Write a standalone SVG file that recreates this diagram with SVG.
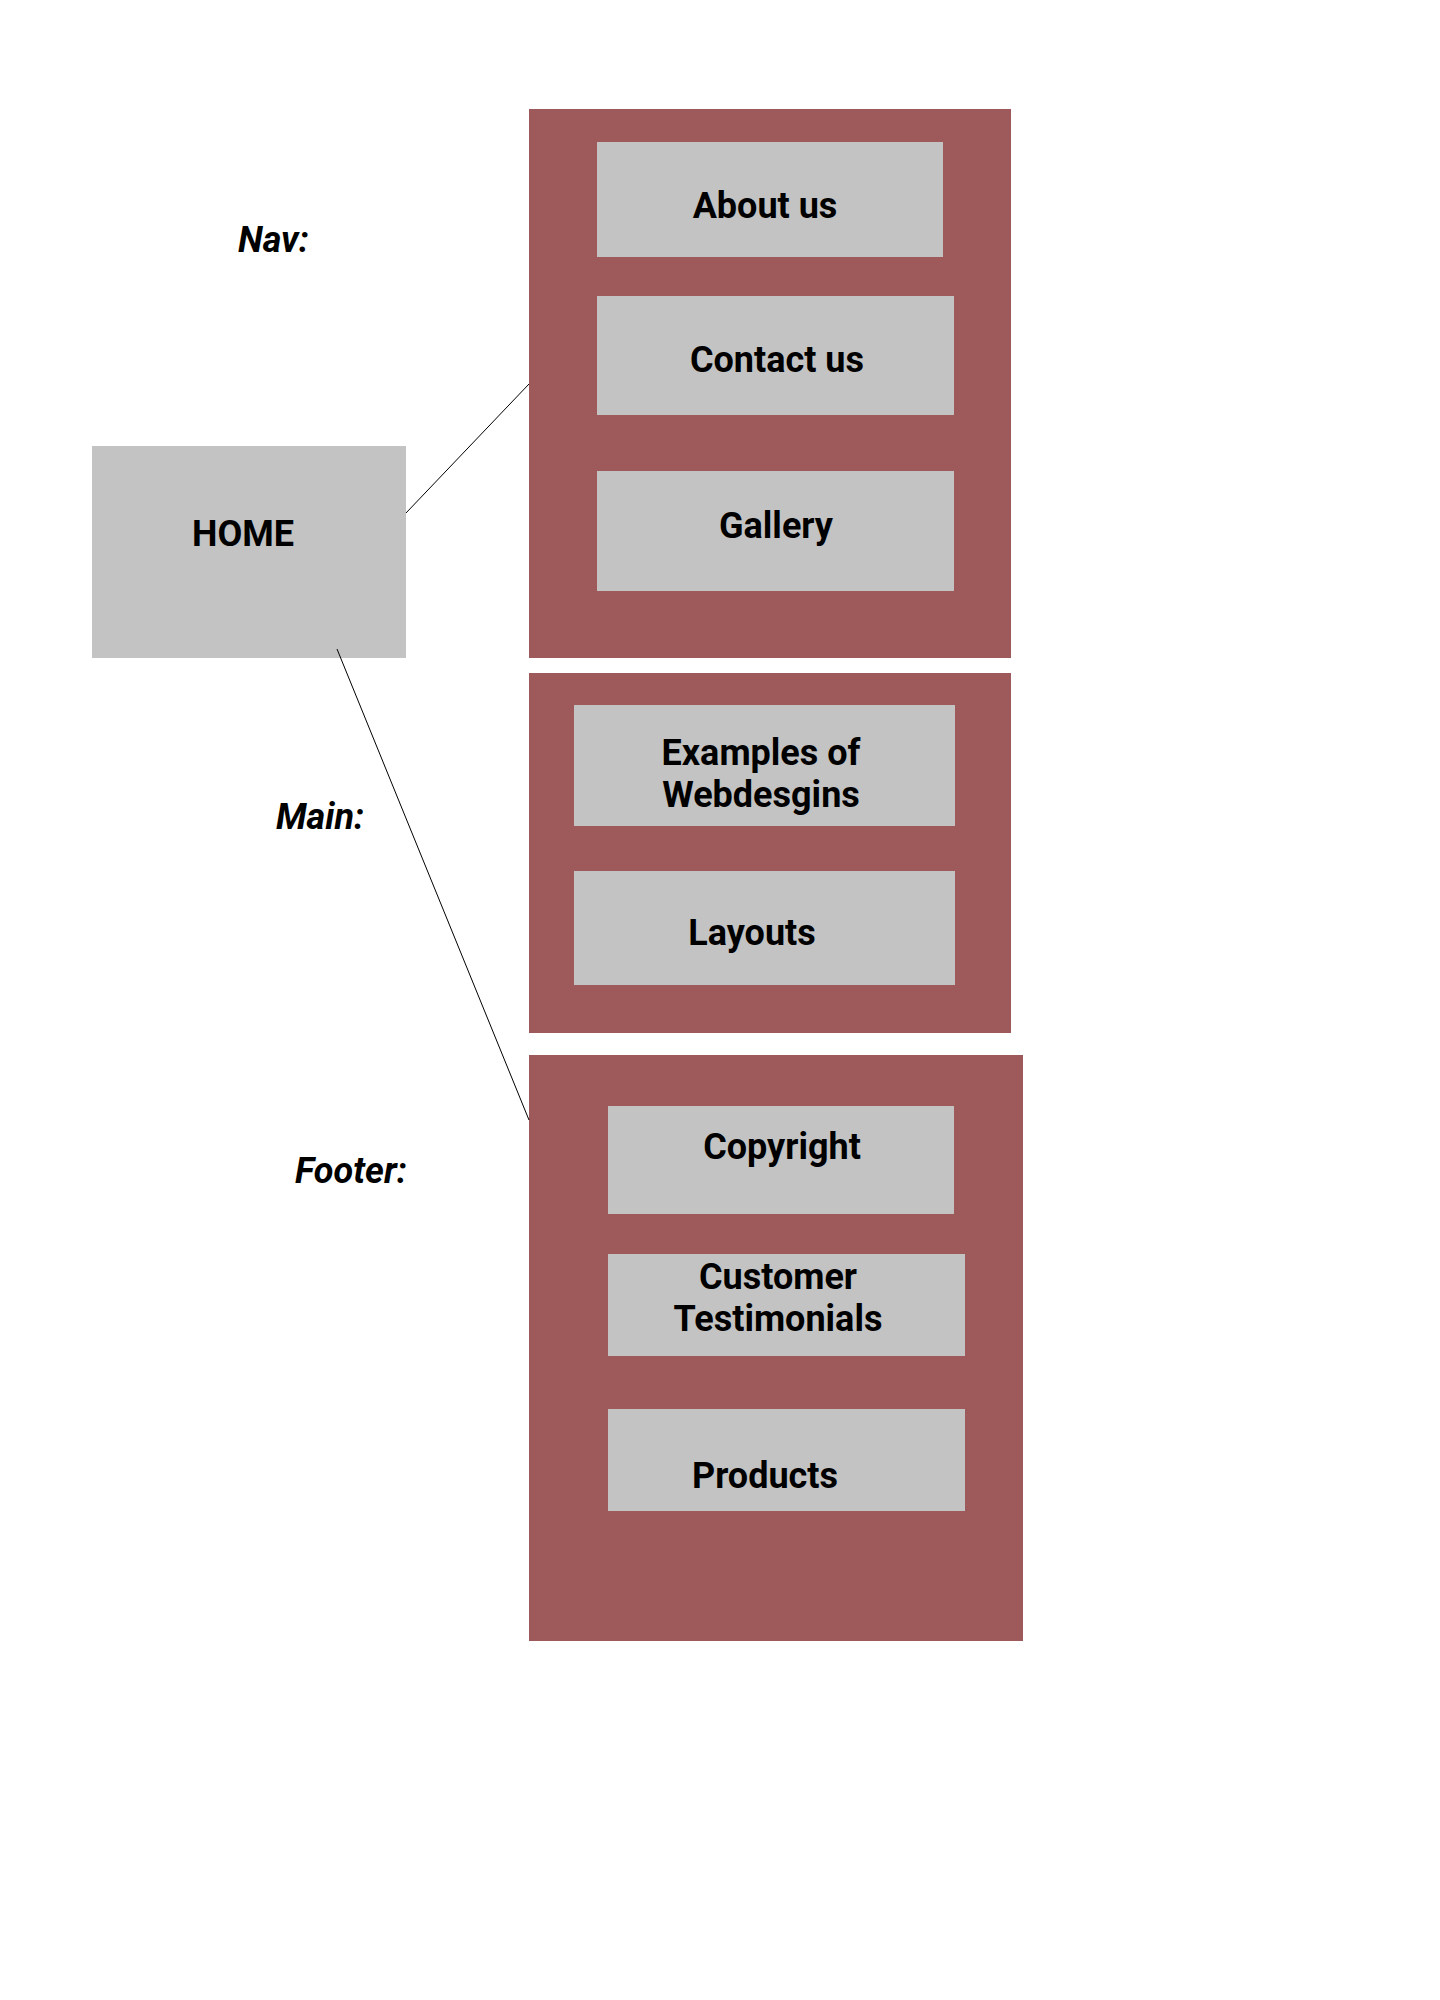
<svg xmlns="http://www.w3.org/2000/svg" width="1440" height="2000" viewBox="0 0 1440 2000">
<style>
.sec{fill:#9e5a5a}
.box{fill:#c3c3c3}
.t{font-family:Roboto,"Liberation Sans",sans-serif;font-weight:bold;font-size:36px;fill:#000;text-anchor:middle}
.lbl{font-family:Roboto,"Liberation Sans",sans-serif;font-weight:bold;font-style:italic;font-size:36px;fill:#000}
.c{stroke:#000;stroke-width:1;fill:none}
</style>
<rect width="1440" height="2000" fill="#fff"/>
<g id="sections">
<rect id="nav-section" class="sec" x="529" y="109" width="482" height="549"/>
<rect id="main-section" class="sec" x="529" y="673" width="482" height="360"/>
<rect id="footer-section" class="sec" x="529" y="1055" width="494" height="586"/>
</g>
<g id="labels">
<text class="lbl" x="238" y="252">Nav:</text>
<text class="lbl" x="276" y="829">Main:</text>
<text class="lbl" x="295" y="1183">Footer:</text>
</g>
<g id="home"><rect class="box" x="92" y="446" width="314" height="212"/><text class="t" x="243" y="546">HOME</text></g>
<g id="about"><rect class="box" x="597" y="142" width="346" height="115"/><text class="t" x="765" y="218">About us</text></g>
<g id="contact"><rect class="box" x="597" y="296" width="357" height="119"/><text class="t" x="777" y="372">Contact us</text></g>
<g id="gallery"><rect class="box" x="597" y="471" width="357" height="120"/><text class="t" x="776" y="538">Gallery</text></g>
<g id="examples"><rect class="box" x="574" y="705" width="381" height="121"/><text class="t" x="761" y="765">Examples of</text><text class="t" x="761" y="807">Webdesgins</text></g>
<g id="layouts"><rect class="box" x="574" y="871" width="381" height="114"/><text class="t" x="752" y="945">Layouts</text></g>
<g id="copyright"><rect class="box" x="608" y="1106" width="346" height="108"/><text class="t" x="782" y="1159">Copyright</text></g>
<g id="testimonials"><rect class="box" x="608" y="1254" width="357" height="102"/><text class="t" x="778" y="1289">Customer</text><text class="t" x="778" y="1331">Testimonials</text></g>
<g id="products"><rect class="box" x="608" y="1409" width="357" height="102"/><text class="t" x="765" y="1488">Products</text></g>
<g id="connectors">
<line class="c" x1="406" y1="513" x2="529" y2="384"/>
<line class="c" x1="337" y1="649" x2="529" y2="1120"/>
</g>
</svg>
